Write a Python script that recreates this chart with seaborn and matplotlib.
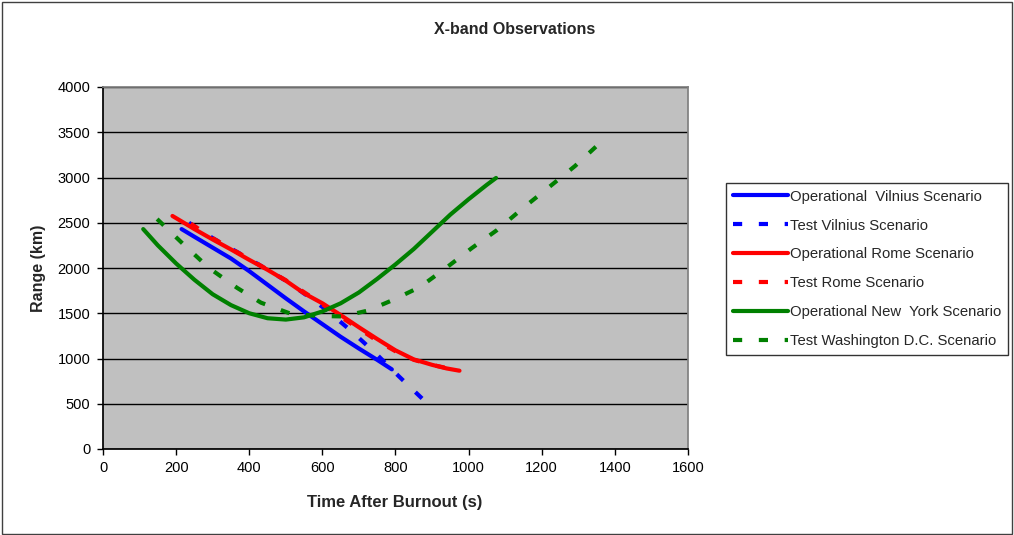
import matplotlib
matplotlib.use("Agg")
import matplotlib.pyplot as plt
import seaborn as sns
import pandas as pd
from matplotlib.patches import Rectangle

# values
t_vil_op = [215, 250, 300, 350, 400, 450, 500, 550, 600, 650, 700, 750, 790]
r_vil_op = [2430, 2345, 2225, 2105, 1965, 1815, 1665, 1520, 1380, 1240, 1110, 985, 880]

t_vil_test = [235, 300, 400, 500, 560, 610, 680, 745, 810, 880]
r_vil_test = [2500, 2330, 2100, 1860, 1690, 1540, 1300, 1060, 800, 530]

t_rome_op = [190, 250, 300, 350, 400, 450, 500, 550, 600, 650, 700, 750, 800, 850, 900, 940, 975]
r_rome_op = [2575, 2430, 2315, 2205, 2090, 1980, 1860, 1720, 1610, 1480, 1345, 1215, 1090, 990, 930, 890, 865]

t_rome_test = [240, 300, 400, 500, 600, 650, 700, 750, 800, 850, 900, 945]
r_rome_test = [2490, 2330, 2100, 1865, 1600, 1460, 1330, 1195, 1080, 985, 930, 890]

t_ny_op = [110, 150, 200, 250, 300, 350, 400, 450, 500, 550, 600, 650, 700, 750, 800, 850, 900, 950, 1000, 1050, 1075]
r_ny_op = [2430, 2250, 2050, 1870, 1710, 1590, 1500, 1445, 1430, 1455, 1520, 1610, 1730, 1880, 2040, 2210, 2400, 2590, 2760, 2920, 2995]

t_dc_test = [148, 222, 290, 367, 432, 510, 585, 655, 725, 795, 867, 938, 1009, 1078, 1149, 1217, 1291, 1359, 1370]
r_dc_test = [2541, 2254, 2000, 1780, 1617, 1500, 1470, 1465, 1530, 1650, 1790, 2000, 2221, 2420, 2663, 2884, 3127, 3381, 3410]

x_ticks = list(range(0, 1601, 200))
y_ticks = list(range(0, 4001, 500))

series = [
    ("Operational  Vilnius Scenario", t_vil_op, r_vil_op, "#0000ff", "-"),
    ("Test Vilnius Scenario", t_vil_test, r_vil_test, "#0000ff", "dash"),
    ("Operational Rome Scenario", t_rome_op, r_rome_op, "#ff0000", "-"),
    ("Test Rome Scenario", t_rome_test, r_rome_test, "#ff0000", "dash"),
    ("Operational New  York Scenario", t_ny_op, r_ny_op, "#008000", "-"),
    ("Test Washington D.C. Scenario", t_dc_test, r_dc_test, "#008000", "dash"),
]

sns.set_theme(style="white")
plt.rcParams["font.family"] = ["Liberation Sans", "DejaVu Sans"]

fig = plt.figure(figsize=(10.14, 5.35), dpi=100)
ax = fig.add_axes([103 / 1014, 1 - 449 / 535, 585 / 1014, 362 / 535])
ax.set_facecolor("#c0c0c0")

for label, t, r, color, ls in series:
    df = pd.DataFrame({"t": t, "r": r})
    style = (0, (2.2, 4.0)) if ls == "dash" else "-"
    sns.lineplot(data=df, x="t", y="r", ax=ax, color=color, lw=3,
                 linestyle=style, sort=False, estimator=None, label=label)

ax.set_xlim(0, 1600)
ax.set_ylim(0, 4000)
ax.set_xticks(x_ticks)
ax.set_yticks(y_ticks)
ax.yaxis.grid(True, color="black", lw=1)
ax.set_axisbelow(True)
ax.set_xlabel("")
ax.set_ylabel("")
ax.tick_params(axis="both", labelsize=10.5, colors="black", direction="out",
               length=4, width=1, left=True, bottom=True, pad=5)
for side in ["left", "bottom"]:
    ax.spines[side].set_color("black")
for side in ["top", "right"]:
    ax.spines[side].set_color("#808080")

# legend box sits to the right of the plot area
leg = ax.legend(loc="upper left", bbox_to_anchor=(726 / 1014, 1 - 183 / 535),
                bbox_transform=fig.transFigure, fontsize=10.7, frameon=True,
                fancybox=False, shadow=False, borderaxespad=0, borderpad=0.45,
                handlelength=3.7, handletextpad=0.15, labelspacing=1.0)
leg.get_frame().set_edgecolor("black")
leg.get_frame().set_linewidth(1)
leg.get_frame().set_facecolor("white")

fig.text(0.508, 1 - 30 / 535, "X-band Observations", ha="center", va="center",
         fontsize=11.5, fontweight="bold")
fig.text(395 / 1014, 1 - 502 / 535, "Time After Burnout (s)", ha="center",
         va="center", fontsize=12, fontweight="bold")
fig.text(38 / 1014, 1 - 268 / 535, "Range (km)", ha="center", va="center",
         rotation=90, fontsize=11.5, fontweight="bold")

# thin frame round the whole figure
fig.patches.append(Rectangle((0.002, 0.002), 0.996, 0.994, transform=fig.transFigure,
                             fill=False, edgecolor="#404040", lw=1))

plt.savefig("out.png", dpi=100)
